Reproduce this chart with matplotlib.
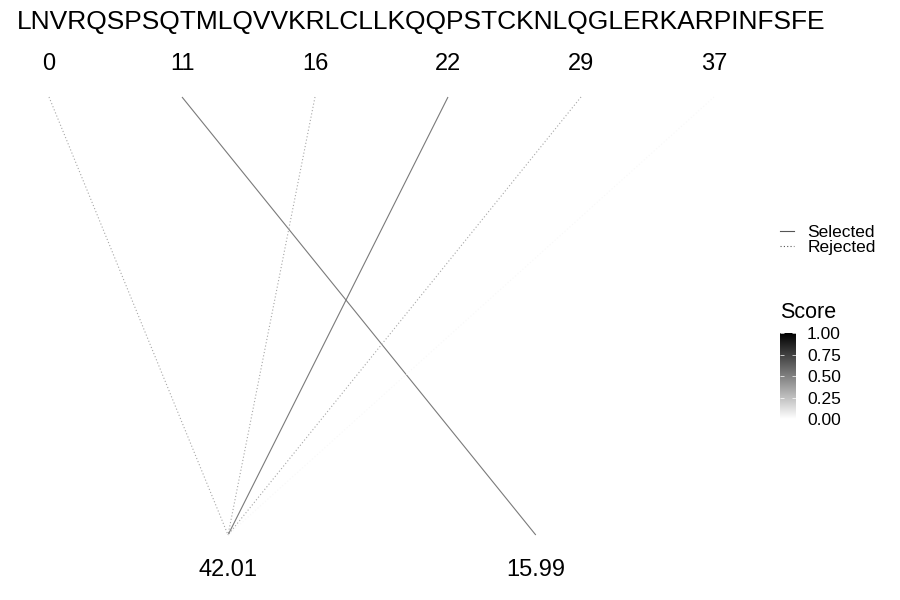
import matplotlib
matplotlib.use('Agg')
import matplotlib.pyplot as plt
from matplotlib.colors import LinearSegmentedColormap, Normalize
from matplotlib.lines import Line2D
import numpy as np

plt.rcParams['font.family'] = ['Liberation Sans', 'DejaVu Sans']

# sequence and fragment data
sequence = "LNVRQSPSQTMLQVVKRLCLLKQQPSTCKNLQGLERKARPINFSFE"
sites = [0, 11, 16, 22, 29, 37]
targets = ["42.01", "15.99", "42.01", "42.01", "42.01", "42.01"]
status = ["Rejected", "Selected", "Rejected", "Selected", "Rejected", "Rejected"]
scores = [0.35, 0.52, 0.35, 0.52, 0.35, 0.03]
mass_labels = ["42.01", "15.99"]

# layout (data coordinates)
mass_x = {"42.01": 1.346, "15.99": 3.66}
px_per_unit_x = 133.0
px_per_unit_y = 438.0

fig = plt.figure(figsize=(9, 6), dpi=100, facecolor='white')
ax = fig.add_axes([0, 0, 1, 1])
xmin = -49 / px_per_unit_x
ax.set_xlim(xmin, xmin + 900 / px_per_unit_x)
ax.set_ylim(-65 / px_per_unit_y, 535 / px_per_unit_y)
ax.set_axis_off()

cmap = LinearSegmentedColormap.from_list("score", ["#ffffff", "#000000"])
norm = Normalize(0, 1)

for i, (site, tgt, st, sc) in enumerate(zip(sites, targets, status, scores)):
    ls = '-' if st == "Selected" else (0, (1, 2))
    ax.plot([i, mass_x[tgt]], [1, 0], color=cmap(norm(sc)), linestyle=ls,
            linewidth=0.8, solid_capstyle='butt')
    ax.text(i, (535 - 64) / px_per_unit_y, str(site), ha='center', va='center', fontsize=17)

for m in mass_labels:
    ax.text(mass_x[m], (535 - 570) / px_per_unit_y, m, ha='center', va='center', fontsize=17)

ax.text(421 / px_per_unit_x + xmin, (535 - 22) / px_per_unit_y, sequence,
        ha='center', va='center', fontsize=19)

# line type legend
handles = [Line2D([], [], color='#555555', linestyle='-', linewidth=0.8),
           Line2D([], [], color='#555555', linestyle=(0, (1, 2)), linewidth=0.8)]
fig.legend(handles, ["Selected", "Rejected"], loc='center left',
           bbox_to_anchor=(771 / 900, 1 - 240 / 600), frameon=False, fontsize=12.5,
           handlelength=0.8, handletextpad=0.8, labelspacing=0.0, borderpad=0)

# score colorbar
cax = fig.add_axes([780 / 900, 1 - 419 / 600, 16 / 900, 86 / 600])
sm = matplotlib.cm.ScalarMappable(norm=norm, cmap=cmap)
cbar = fig.colorbar(sm, cax=cax, ticks=[0, 0.25, 0.5, 0.75, 1.0])
cbar.ax.set_yticklabels(["0.00", "0.25", "0.50", "0.75", "1.00"])
cbar.ax.tick_params(labelsize=12.5, length=3, width=0.5, color='white', direction='in',
                    pad=8, left=True, right=True)
cbar.outline.set_visible(False)
fig.text(780 / 900, 1 - 312 / 600, "Score", fontsize=15.5, ha='left', va='center')

plt.savefig("out.png", dpi=100, facecolor='white')
plt.close(fig)
